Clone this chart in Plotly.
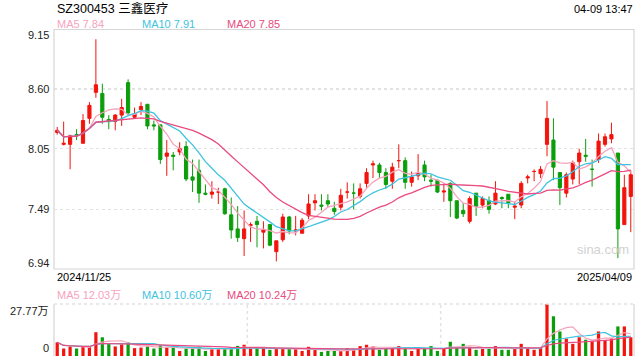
import pandas as pd
import plotly.graph_objects as go

# ---------------- data ----------------
opens = [8.20, 8.09, 8.09, 8.18, 8.10, 8.33, 8.57, 8.56, 8.32, 8.30,
         8.36, 8.66, 8.34, 8.41, 8.46, 8.27, 8.27, 7.98, 7.99, 8.02,
         8.07, 7.79, 7.85, 7.64, 7.63, 7.65, 7.68, 7.44, 7.31, 7.22,
         7.34, 7.38, 7.28, 7.35, 7.10, 7.21, 7.42, 7.29, 7.27, 7.43,
         7.55, 7.53, 7.57, 7.50, 7.51, 7.65, 7.64, 7.61, 7.73, 7.90,
         7.90, 7.83, 7.75, 7.94, 7.94, 7.74, 7.80, 7.90, 7.76, 7.76,
         7.65, 7.73, 7.57, 7.48, 7.38, 7.64, 7.53, 7.57, 7.54, 7.60,
         7.63, 7.51, 7.53, 7.78, 7.84, 7.82, 8.09, 8.13, 7.83, 7.64,
         7.77, 7.93, 7.99, 7.86, 7.95, 8.09, 8.14, 8.01, 7.35, 7.61]
closes = [8.22, 8.10, 8.17, 8.17, 8.31, 8.45, 8.64, 8.34, 8.30, 8.36,
          8.43, 8.38, 8.37, 8.44, 8.26, 8.26, 7.95, 8.01, 7.98, 8.05,
          7.77, 7.76, 7.64, 7.63, 7.65, 7.65, 7.45, 7.30, 7.23, 7.31,
          7.35, 7.35, 7.30, 7.16, 7.20, 7.42, 7.29, 7.30, 7.39, 7.54,
          7.57, 7.52, 7.54, 7.47, 7.62, 7.65, 7.64, 7.68, 7.83, 7.91,
          7.83, 7.72, 7.88, 7.94, 7.74, 7.79, 7.82, 7.79, 7.75, 7.65,
          7.66, 7.57, 7.41, 7.45, 7.59, 7.52, 7.59, 7.49, 7.64, 7.59,
          7.55, 7.52, 7.73, 7.79, 7.84, 7.86, 8.33, 7.88, 7.69, 7.81,
          7.92, 8.01, 7.98, 7.86, 8.12, 8.16, 8.18, 7.31, 7.69, 7.81]
highs = [8.25, 8.30, 8.18, 8.23, 8.37, 8.48, 9.06, 8.65, 8.36, 8.37,
         8.51, 8.69, 8.43, 8.48, 8.46, 8.31, 8.27, 8.13, 8.02, 8.11,
         8.12, 7.95, 7.95, 7.72, 7.75, 7.69, 7.69, 7.60, 7.52, 7.48,
         7.37, 7.43, 7.38, 7.35, 7.20, 7.45, 7.43, 7.43, 7.41, 7.63,
         7.63, 7.63, 7.63, 7.56, 7.68, 7.74, 7.73, 7.73, 7.87, 7.94,
         7.92, 7.87, 7.92, 8.09, 7.97, 7.84, 8.00, 7.94, 7.81, 7.76,
         7.73, 7.74, 7.57, 7.55, 7.61, 7.64, 7.61, 7.61, 7.75, 7.61,
         7.63, 7.56, 7.75, 7.81, 7.86, 7.89, 8.49, 8.33, 7.83, 7.83,
         7.94, 8.05, 8.14, 7.95, 8.19, 8.19, 8.29, 8.01, 7.81, 7.85]
lows = [8.18, 8.08, 7.86, 8.13, 8.10, 8.28, 8.52, 8.28, 8.23, 8.22,
        8.26, 8.36, 8.33, 8.36, 8.23, 8.22, 7.91, 7.80, 7.85, 7.99,
        7.75, 7.65, 7.55, 7.62, 7.59, 7.54, 7.44, 7.22, 7.19, 7.06,
        7.19, 7.14, 7.13, 7.15, 7.01, 7.19, 7.26, 7.25, 7.27, 7.40,
        7.48, 7.48, 7.51, 7.44, 7.48, 7.59, 7.49, 7.59, 7.69, 7.78,
        7.78, 7.68, 7.68, 7.87, 7.68, 7.70, 7.76, 7.75, 7.70, 7.64,
        7.56, 7.42, 7.40, 7.42, 7.36, 7.43, 7.50, 7.45, 7.53, 7.50,
        7.50, 7.40, 7.50, 7.73, 7.75, 7.78, 7.98, 7.76, 7.53, 7.60,
        7.72, 7.72, 7.93, 7.70, 7.92, 8.07, 8.10, 7.04, 7.35, 7.28]
volumes = [7.3, 4.0, 5.1, 4.0, 5.1, 5.1, 12.7, 10.0, 6.7, 5.1,
           6.2, 7.3, 4.2, 4.5, 5.1, 4.0, 5.6, 4.5, 4.5, 2.7,
           4.0, 4.0, 4.9, 2.7, 3.8, 3.8, 3.8, 4.7, 5.4, 6.0,
           4.0, 4.0, 4.2, 3.3, 4.0, 4.2, 3.8, 3.8, 2.7, 4.9,
           3.6, 2.2, 2.7, 2.7, 2.7, 4.2, 3.6, 5.3, 6.0, 5.1,
           3.3, 4.0, 4.5, 5.3, 4.0, 2.7, 4.0, 4.0, 5.3, 2.7,
           4.0, 7.6, 4.4, 6.5, 4.9, 3.3, 3.8, 3.8, 5.3, 3.3,
           3.3, 4.0, 6.5, 4.0, 3.3, 4.2, 27.77, 21.2, 13.1, 9.3,
           6.5, 10.0, 8.7, 7.8, 13.1, 8.5, 9.4, 15.8, 15.8, 10.0]  # 万股

holidays = ["2025-01-01", "2025-01-28", "2025-01-29", "2025-01-30", "2025-01-31",
            "2025-02-03", "2025-02-04", "2025-04-04"]
dates = [d.strftime("%Y/%m/%d") for d in pd.bdate_range("2024-11-25", "2025-04-09")
         if d.strftime("%Y-%m-%d") not in holidays]

title_text = "SZ300453 三鑫医疗"
time_text = "04-09 13:47"
ma_names = ["MA5", "MA10", "MA20"]
ma_periods = [5, 10, 20]
price_legend = ["7.84", "7.91", "7.85"]
vol_legend = ["12.03万", "10.60万", "10.24万"]
price_ticks = [9.15, 8.60, 8.05, 7.49, 6.94]
vol_ticks = [27.77, 0]
vol_tick_labels = ["27.77万", "0"]

# ---------------- styling ----------------
W, H = 640, 360
RED, GREEN = "#f2140c", "#0b9e0b"
MA_COLORS = ["#f7a3bd", "#3ec3e0", "#ea4a80"]
FONT = "Liberation Sans, Arial, Noto Sans CJK SC, sans-serif"
GRID = "#e2e2e2"
BORDER = "#d6d6d6"


def px(x):
    return x / W


def py(y):
    return 1 - y / H


X0, X1 = 54, 634
M_TOP, M_BOT = 29.5, 269
V_TOP, V_BOT = 304, 356

s_close = pd.Series(closes)
s_vol = pd.Series(volumes)
vol_colors = [RED if c >= o else GREEN for o, c in zip(opens, closes)]

fig = go.Figure()
fig.add_trace(go.Candlestick(
    x=dates, open=opens, high=highs, low=lows, close=closes,
    increasing=dict(line=dict(color=RED, width=1), fillcolor=RED),
    decreasing=dict(line=dict(color=GREEN, width=1), fillcolor=GREEN),
    whiskerwidth=0, xaxis="x", yaxis="y", showlegend=False, hoverinfo="skip"))
for n, p, col in zip(ma_names, ma_periods, MA_COLORS):
    fig.add_trace(go.Scatter(x=dates, y=s_close.rolling(p, min_periods=1).mean(),
                             mode="lines", line=dict(color=col, width=1.3),
                             xaxis="x", yaxis="y", showlegend=False, hoverinfo="skip"))

fig.add_trace(go.Bar(x=dates, y=volumes, marker=dict(color=vol_colors, line=dict(width=0)),
                     width=0.5, xaxis="x2", yaxis="y2", showlegend=False, hoverinfo="skip"))
for n, p, col in zip(ma_names, ma_periods, MA_COLORS):
    fig.add_trace(go.Scatter(x=dates, y=s_vol.rolling(p, min_periods=1).mean(),
                             mode="lines", line=dict(color=col, width=1.2),
                             xaxis="x2", yaxis="y2", showlegend=False, hoverinfo="skip"))

xcommon = dict(type="category", range=[-0.5, len(dates) - 0.5], showgrid=False,
               showticklabels=False, ticks="", zeroline=False, showline=False,
               domain=[px(X0), px(X1)], fixedrange=True)

fig.update_layout(
    width=W, height=H, margin=dict(l=0, r=0, t=0, b=0),
    paper_bgcolor="white", plot_bgcolor="white",
    font=dict(family=FONT, size=11, color="#222"),
    xaxis=dict(**xcommon, rangeslider=dict(visible=False)),
    xaxis2=dict(**xcommon, anchor="y2", matches="x"),
    yaxis=dict(domain=[py(M_BOT), py(M_TOP)], range=[price_ticks[-1], price_ticks[0]],
               tickvals=price_ticks[1:-1], showticklabels=False, showgrid=True,
               gridcolor=GRID, griddash="dot", gridwidth=1.5, zeroline=False, ticks=""),
    yaxis2=dict(domain=[py(V_BOT), py(V_TOP)], range=[0, vol_ticks[0]], anchor="x2",
                showticklabels=False, showgrid=False, zeroline=False, ticks=""),
    bargap=0.5,
)

ann = []
ann.append(dict(text=title_text, x=px(55), y=py(8.5), xref="paper", yref="paper",
                xanchor="left", yanchor="middle", showarrow=False,
                font=dict(size=12.5, color="#000")))
ann.append(dict(text=time_text, x=px(635), y=py(8.5), xref="paper", yref="paper",
                xanchor="right", yanchor="middle", showarrow=False,
                font=dict(size=11, color="#000")))
for k, (n, v, col) in enumerate(zip(ma_names, price_legend, MA_COLORS)):
    ann.append(dict(text=f"{n} {v}", x=px(55 + 85 * k), y=py(24.5), xref="paper", yref="paper",
                    xanchor="left", yanchor="middle", showarrow=False,
                    font=dict(size=11, color=col)))
    ann.append(dict(text=f"{n} {vol_legend[k]}", x=px(55 + 85 * k), y=py(295), xref="paper",
                    yref="paper", xanchor="left", yanchor="middle", showarrow=False,
                    font=dict(size=11, color=col)))
for j, t in enumerate(price_ticks):
    shift = -5.5 if j == 0 else (6 if j == len(price_ticks) - 1 else 0)
    ann.append(dict(text=f"{t:.2f}", x=px(51), y=t, xref="paper", yref="y",
                    xanchor="right", yanchor="middle", yshift=shift, showarrow=False,
                    font=dict(size=11, color="#222")))
for t, lab, shift in zip(vol_ticks, vol_tick_labels, [-7, 8]):
    ann.append(dict(text=lab, x=px(51), y=t, xref="paper", yref="y2",
                    xanchor="right", yanchor="middle", yshift=shift, showarrow=False,
                    font=dict(size=11, color="#222")))
ann.append(dict(text=dates[0], x=px(55), y=py(277), xref="paper", yref="paper",
                xanchor="left", yanchor="middle", showarrow=False, font=dict(size=11, color="#000")))
ann.append(dict(text=dates[-1], x=px(634), y=py(277), xref="paper", yref="paper",
                xanchor="right", yanchor="middle", showarrow=False, font=dict(size=11, color="#000")))
ann.append(dict(text="sina.com", x=px(603), y=py(249), xref="paper", yref="paper",
                xanchor="center", yanchor="middle", showarrow=False,
                font=dict(size=13, color="#d2d2d2")))
fig.update_layout(annotations=ann)

shapes = [
    dict(type="rect", xref="paper", yref="paper", x0=px(X0), x1=px(X1), y0=py(M_BOT), y1=py(M_TOP),
         line=dict(color=BORDER, width=1.2), layer="above"),
    dict(type="line", xref="paper", yref="paper", x0=px(X0), x1=px(X0), y0=py(V_BOT), y1=py(V_TOP),
         line=dict(color=BORDER, width=1.2)),
    dict(type="line", xref="paper", yref="paper", x0=px(X1), x1=px(X1), y0=py(V_BOT), y1=py(V_TOP),
         line=dict(color=BORDER, width=1.2)),
    dict(type="line", xref="paper", yref="paper", x0=px(X0), x1=px(X1), y0=py(V_TOP), y1=py(V_TOP),
         line=dict(color=GRID, width=1.5, dash="dot")),
]
for f in (1 / 3, 2 / 3):
    xx = X0 + (X1 - X0) * f
    shapes.append(dict(type="line", xref="paper", yref="paper", x0=px(xx), x1=px(xx),
                       y0=py(V_BOT), y1=py(V_TOP), line=dict(color=GRID, width=1.5, dash="dot"),
                       layer="below"))
fig.update_layout(shapes=shapes)

fig.write_html("out.html", config={"displayModeBar": False, "staticPlot": True},
               post_script="document.body.style.margin='0';document.body.style.overflow='hidden';")
